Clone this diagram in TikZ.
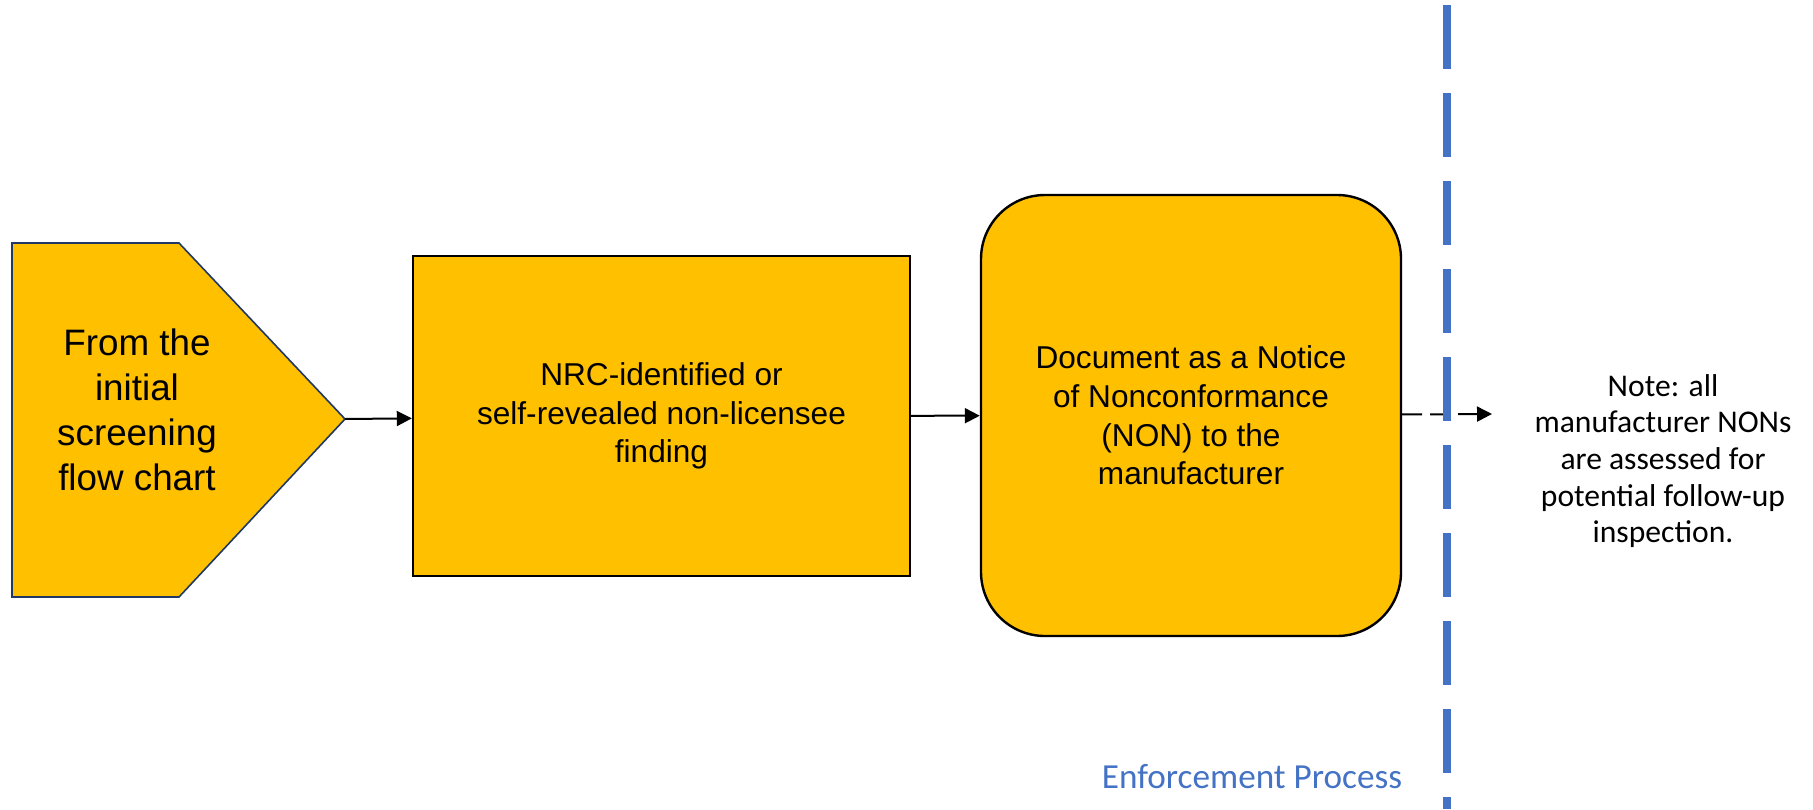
\documentclass[tikz,border=0pt]{standalone}
\usepackage{fontspec}
\setmainfont{Liberation Sans}
\newfontfamily\calibri{Carlito}
\usepackage{tikz}
\usetikzlibrary{arrows.meta}
\definecolor{boxfill}{HTML}{FFC000}
\definecolor{navyline}{HTML}{1F3864}
\definecolor{laneblue}{HTML}{4472C4}

\begin{document}
\begin{tikzpicture}[x=0.5pt,y=-0.5pt,->,>={Triangle[length=7.5pt,width=7.5pt]},
	line width=1pt,
	procbox/.style={draw=black,line width=1.2pt,fill=boxfill,align=center,
		font=\fontsize{15.8}{19.3}\selectfont},
	notetext/.style={align=center,font=\calibri\fontsize{15.8}{18.3}\selectfont}]
	\tikzstyle{srcshape}=[-,draw=navyline,line width=0.8pt,fill=boxfill]
	\tikzstyle{srctext}=[align=center,font=\fontsize{18.4}{22.4}\selectfont]

	\useasboundingbox (0,0) rectangle (1813,809);

	\coordinate (tip) at (345,419);
	\draw[srcshape] (12,243) -- (179,243) -- (tip) -- (179,597) -- (12,597) -- cycle;
	\node[srctext] (src) at (137,410) {From the\\initial\\screening\\flow chart};

	\node[procbox,minimum width=248.5pt,minimum height=160pt] (finding) at (661.5,416)
		{NRC-identified or\\self-revealed non-licensee\\finding};
	\node[procbox,rounded corners=32pt,minimum width=210pt,minimum height=220.5pt] (doc) at (1191,415.5)
		{Document as a Notice\\of Nonconformance\\(NON) to the\\manufacturer};

	\node[notetext] (note) at (1663,461)
		{Note: all\\manufacturer NONs\\are assessed for\\potential follow-up\\inspection.};
	\coordinate (notein) at (1492,414);

	\path
		(tip) edge (finding)
		(finding) edge (doc)
		(doc) edge [dash pattern=on 10pt off 4pt] (notein)
	;

	% lane boundary sits on top of the dashed arrow
	\draw[-,laneblue,line width=4pt,dash pattern=on 32pt off 12pt] (1447,5) -- (1447,809);
	\node[anchor=base,text=laneblue,font=\calibri\fontsize{17.6}{21}\selectfont] (lane) at (1252,788)
		{Enforcement Process};
\end{tikzpicture}
\end{document}
